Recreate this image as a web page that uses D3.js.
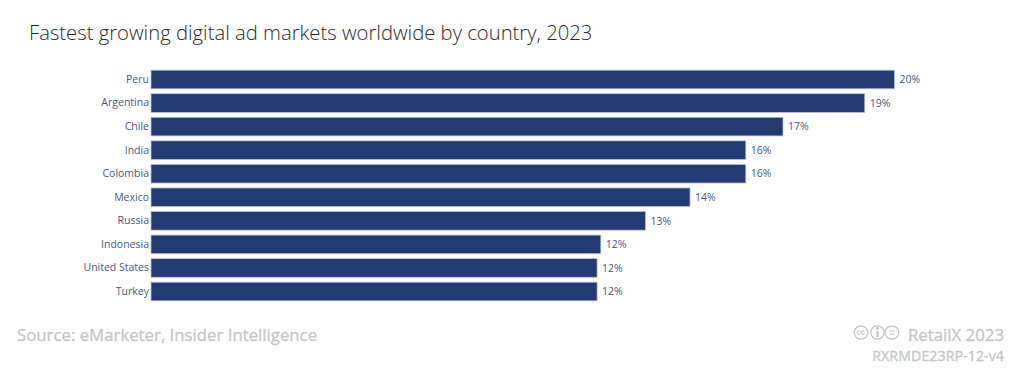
<!DOCTYPE html>
<html>
<head>
<meta charset="utf-8">
<script src="https://cdn.jsdelivr.net/npm/d3@7"></script>
<style>
  html, body { margin: 0; padding: 0; background: #fff; overflow: hidden; }
  text { font-family: "Open Sans", sans-serif; }
</style>
</head>
<body>
<div id="chart"></div>
<script>
const countries = ['Peru', 'Argentina', 'Chile', 'India', 'Colombia', 'Mexico', 'Russia', 'Indonesia', 'United States', 'Turkey'];
const growth = [20, 19.2, 17, 16, 16, 14.5, 13.3, 12.1, 12, 12];
const growthLabels = ['20%', '19%', '17%', '16%', '16%', '14%', '13%', '12%', '12%', '12%'];

const width = 1024;
const height = 389;
const margin = { top: 69, left: 151, right: 130, bottom: 87 };

const svg = d3.select('#chart')
  .append('svg')
  .attr('width', width)
  .attr('height', height)
  .style('display', 'block');

svg.append('text')
  .attr('x', 29)
  .attr('y', 40)
  .attr('font-size', 20.25)
  .attr('font-weight', 300)
  .attr('fill', '#2b2b2b')
  .text('Fastest growing digital ad markets worldwide by country, 2023');

const xscale = d3.scaleLinear()
  .domain([0, 20])
  .range([margin.left, 894.5]);

const yscale = d3.scaleBand()
  .domain(countries)
  .range([margin.top, height - margin.bottom])
  .paddingInner(0.21)
  .paddingOuter(0.05);

// Axis
const yaxis = svg.append('g')
  .attr('transform', `translate(${margin.left}, 0)`)
  .call(d3.axisLeft(yscale).tickSize(0).tickPadding(2));

yaxis.select('.domain').remove();
yaxis.selectAll('text')
  .attr('font-size', 10.5)
  .style('font-family', '"Open Sans", sans-serif')
  .attr('fill', '#4a5a80');

svg.selectAll('.bar')
  .data(countries)
  .enter()
  .append('rect')
  .attr('class', 'bar')
  .attr('x', margin.left)
  .attr('y', d => yscale(d))
  .attr('width', (d, i) => xscale(growth[i]) - margin.left)
  .attr('height', yscale.bandwidth())
  .attr('fill', '#233b73')
  .attr('stroke', '#b9c3d8')
  .attr('stroke-width', 0.75);

svg.selectAll('.value')
  .data(countries)
  .enter()
  .append('text')
  .attr('class', 'value')
  .attr('x', (d, i) => xscale(growth[i]) + 5)
  .attr('y', d => yscale(d) + yscale.bandwidth() / 2)
  .attr('dy', '0.35em')
  .attr('font-size', 10.5)
  .attr('fill', '#4a5a80')
  .text((d, i) => growthLabels[i]);

// Footer
const grey = '#c6c6c6';

const footer = svg.append('g')
  .attr('fill', grey)
  .attr('stroke', grey)
  .attr('stroke-width', 0.35);

footer.append('text')
  .attr('x', 17)
  .attr('y', 341)
  .attr('font-size', 16.8)
  .text('Source: eMarketer, Insider Intelligence');

footer.append('text')
  .attr('x', 1004)
  .attr('y', 341)
  .attr('text-anchor', 'end')
  .attr('font-size', 16.8)
  .text('RetailX 2023');

footer.append('text')
  .attr('x', 1004)
  .attr('y', 361)
  .attr('text-anchor', 'end')
  .attr('font-size', 14.3)
  .text('RXRMDE23RP-12-v4');

// cc badges
const badges = svg.append('g')
  .attr('fill', 'none')
  .attr('stroke', grey)
  .attr('stroke-width', 1.3);

[861, 877.5, 892].forEach(cx => {
  badges.append('circle').attr('cx', cx).attr('cy', 332.5).attr('r', 6.7);
});

badges.append('path').attr('d', 'M860.5 331a2 2 0 1 0 0 3M864.5 331a2 2 0 1 0 0 3').attr('stroke-width', 1);
badges.append('path').attr('d', 'M877.5 331v6').attr('stroke-width', 2.4);
badges.append('circle').attr('cx', 877.5).attr('cy', 328.5).attr('r', 0.8).attr('fill', grey);
badges.append('path').attr('d', 'M889 331h6M889 334h6').attr('stroke-width', 1.2);
</script>
</body>
</html>
